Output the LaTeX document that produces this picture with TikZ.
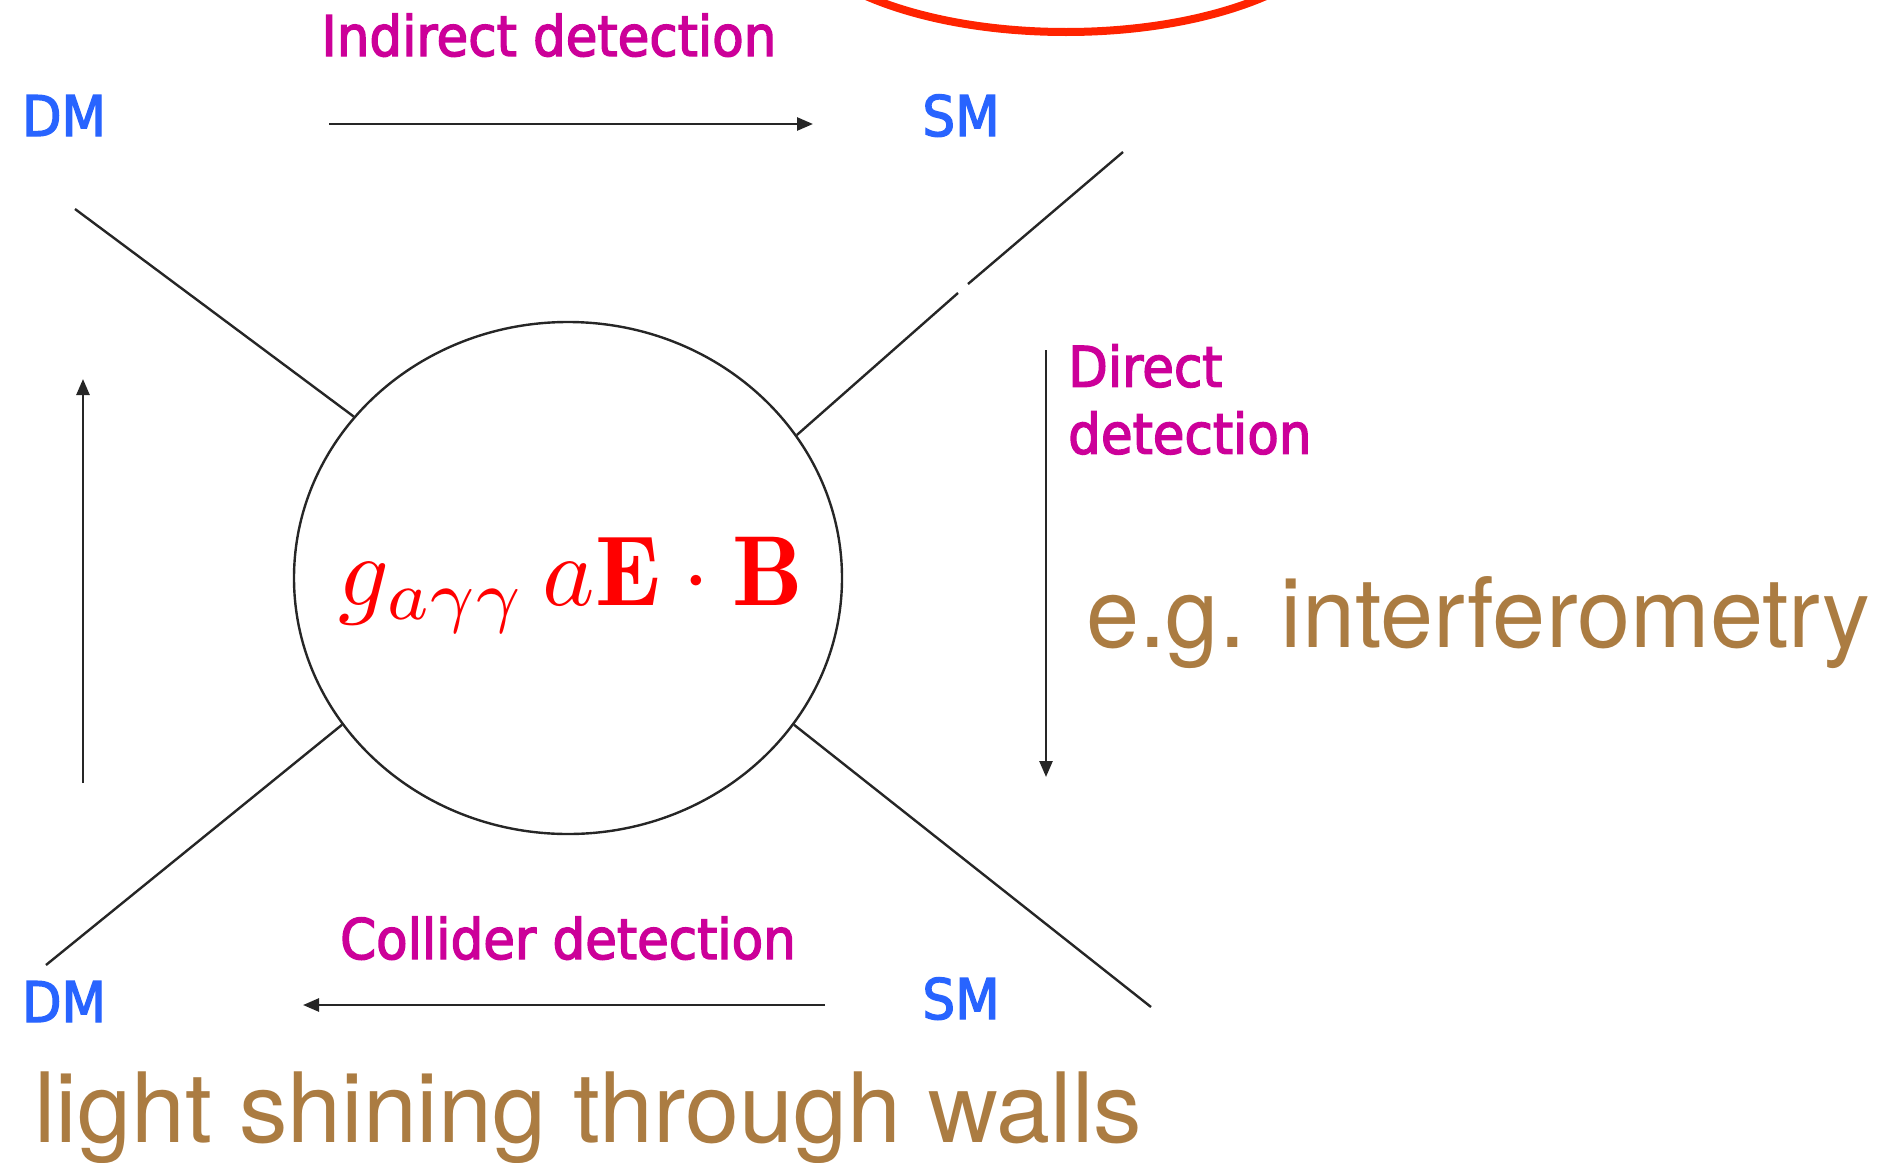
\documentclass[tikz,border=0pt]{standalone}
\usepackage{fontspec}
\usepackage{graphicx}
\usetikzlibrary{arrows.meta,shapes.geometric}
\newfontfamily\labfont[FakeStretch=0.92,FakeBold=2.5]{DejaVu Sans}
\newfontfamily\notefont{TeX Gyre Heros}
\newfontfamily\notefontn[FakeStretch=0.985]{TeX Gyre Heros}
\definecolor{dmblue}{RGB}{40,100,255}
\definecolor{detmag}{RGB}{204,0,153}
\definecolor{notebrown}{RGB}{171,124,66}
\definecolor{ringred}{RGB}{255,35,0}
\begin{document}
\begin{tikzpicture}[x=1pt,y=-1pt,
  particle/.style={font=\labfont\fontsize{56}{60}\selectfont, text=dmblue, inner sep=0pt, anchor=base},
  process/.style={font=\labfont\fontsize{56}{67}\selectfont, text=detmag, inner sep=0pt},
  note/.style={font=\notefont\fontsize{97}{100}\selectfont, text=notebrown, inner sep=0pt, anchor=base west},
  leg/.style={line width=2.4pt, draw=black!85},
  flow/.style={line width=2.6pt, draw=black!85, -{Triangle[length=16pt,width=13pt]}}
]
\useasboundingbox (0,0) rectangle (1903,1162);
\begin{scope}
\clip (0,0) rectangle (1903,1162);
\draw[ringred, line width=8pt] (1066,-90) ellipse [x radius=282, y radius=122];
\end{scope}

% particles
\node[particle] (dmT) at (64,136) {DM};
\node[particle] (smT) at (961,136) {SM};
\node[particle] (dmB) at (64,1022) {DM};
\node[particle] (smB) at (961,1019) {SM};

% central blob
\node[ellipse, draw=black!85, line width=2.4pt, minimum width=548pt, minimum height=512pt, inner sep=0pt] (blob) at (568,578) {};
\node[text=red, inner sep=0pt, anchor=base] (coup) at (571,605) {\scalebox{9.95}{$g_{a\gamma\gamma}\,a\mathbf{E}\cdot\mathbf{B}$}};

% legs
\coordinate (tl) at (75,209);
\coordinate (tr) at (1123,152);
\coordinate (gapA) at (968,284);
\coordinate (gapB) at (958,293);
\coordinate (bl) at (46,965);
\coordinate (br) at (1151,1007);
\draw[leg] (tl) -- (blob.143.6);
\draw[leg] (tr) -- (gapA);
\draw[leg] (gapB) -- (blob.32.6);
\draw[leg] (bl) -- (blob.213.2);
\draw[leg] (br) -- (blob.327.6);

% arrows
\coordinate (indS) at (329,124);
\coordinate (indE) at (813,124);
\coordinate (dirS) at (1046,350);
\coordinate (dirE) at (1046,777);
\coordinate (colS) at (825,1005);
\coordinate (colE) at (303,1005);
\coordinate (upS) at (83,783);
\coordinate (upE) at (83,379);
\draw[flow] (indS) -- (indE);
\draw[flow] (dirS) -- (dirE);
\draw[flow] (colS) -- (colE);
\draw[flow] (upS) -- (upE);

% process labels
\node[process, anchor=base] (indL) at (549,56) {Indirect detection};
\node[process, anchor=north west, align=left] (dirL) at (1068,344) {Direct\\detection};
\node[process, anchor=base] (colL) at (568,959) {Collider detection};

% notes
\node[note, font=\notefontn\fontsize{97}{100}\selectfont] (interf) at (1086,647) {e.g. interferometry};
\node[note] (lstw) at (34,1142) {light shining through walls};
\end{tikzpicture}
\end{document}
